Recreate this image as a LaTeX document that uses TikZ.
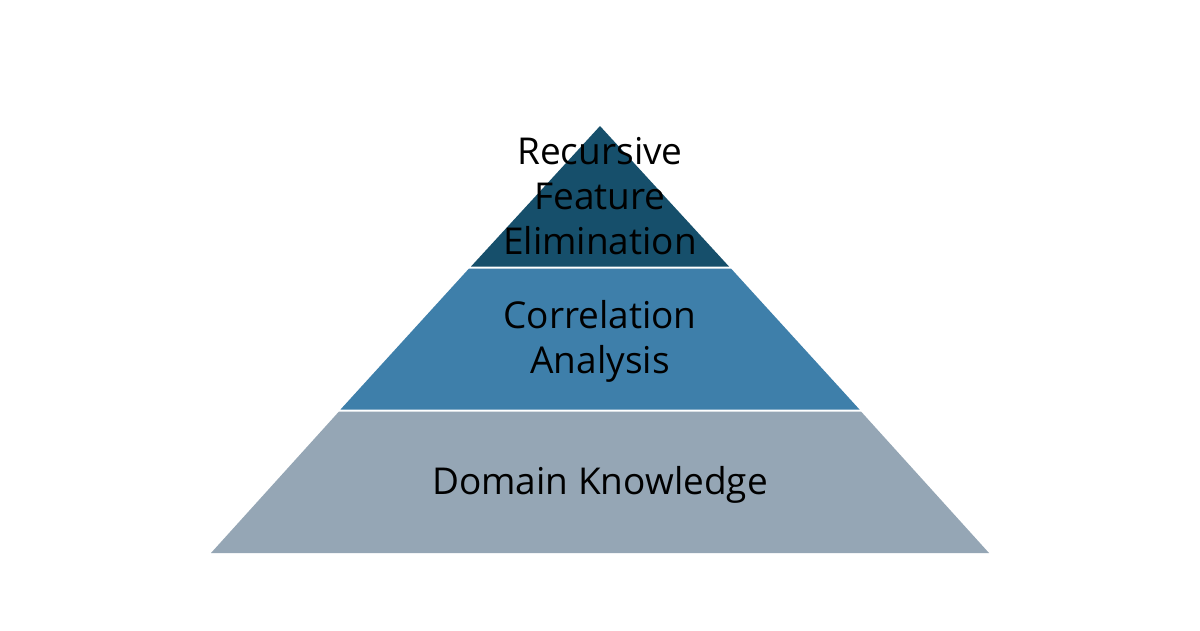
\documentclass[tikz,border=0pt]{standalone}
\usepackage{fontspec}
\setmainfont{Open Sans}
\definecolor{topc}{HTML}{164F6B}
\definecolor{midc}{HTML}{3E7FAA}
\definecolor{botc}{HTML}{95A6B5}
\begin{document}
\begin{tikzpicture}[x=1pt,y=-1pt,
  layer/.style={draw=none},
  lbl/.style={align=center,font=\fontsize{37}{45}\selectfont,text=black,inner sep=0pt}]
\useasboundingbox[fill=white] (0,0) rectangle (1200,630);
% apex (600,126), base (211,553)-(989,553)
\fill[layer,fill=topc] (600,126) -- (729,266.5) -- (471,266.5) -- cycle;
\fill[layer,fill=midc] (469,268.5) -- (731,268.5) -- (859.5,409.5) -- (340.5,409.5) -- cycle;
\fill[layer,fill=botc] (339,411.5) -- (861,411.5) -- (989,553) -- (211,553) -- cycle;
\node[lbl] (t) at (600,196) {Recursive\\Feature\\Elimination};
\node[lbl] (m) at (600,341.5) {Correlation\\Analysis};
\node[lbl] (b) at (600,484.5) {Domain Knowledge};
\end{tikzpicture}
\end{document}
